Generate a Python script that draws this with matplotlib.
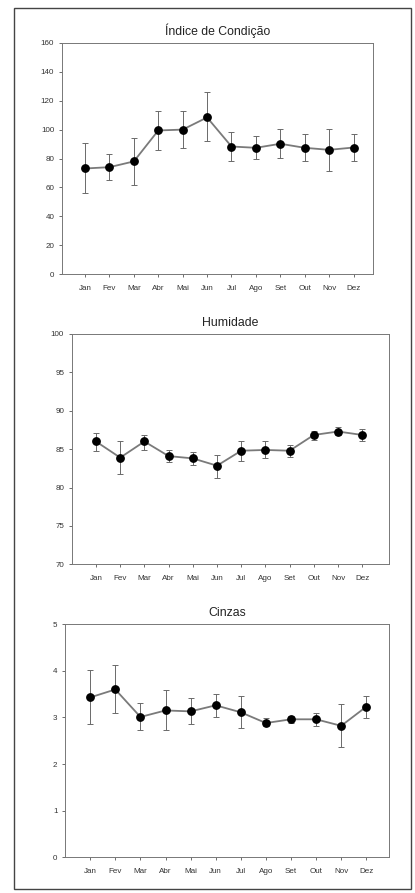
import numpy as np
import matplotlib
matplotlib.use("Agg")
import matplotlib.pyplot as plt
from matplotlib.patches import Rectangle

plt.rcParams['font.family'] = ['Liberation Sans', 'DejaVu Sans']

meses = ['Jan', 'Fev', 'Mar', 'Abr', 'Mai', 'Jun', 'Jul', 'Ago', 'Set', 'Out', 'Nov', 'Dez']

# Índice de Condição: média, limite superior e inferior da barra de erro
ic_media = [73.1, 74.0, 78.0, 99.4, 100.0, 108.4, 88.3, 87.4, 90.2, 87.4, 86.0, 87.6]
ic_sup = [90.4, 83.0, 94.0, 113.0, 112.6, 125.8, 98.3, 95.3, 100.6, 96.9, 100.6, 97.1]
ic_inf = [56.0, 65.0, 62.0, 86.0, 87.0, 91.8, 78.0, 79.5, 80.2, 78.4, 71.7, 78.4]

# Humidade
hum_media = [86.0, 83.9, 86.0, 84.1, 83.8, 82.85, 84.8, 84.9, 84.8, 86.85, 87.3, 86.85]
hum_sup = [87.15, 86.0, 86.9, 84.9, 84.6, 84.3, 86.0, 86.0, 85.6, 87.4, 87.85, 87.6]
hum_inf = [84.8, 81.8, 84.9, 83.3, 82.9, 81.3, 83.5, 83.8, 84.0, 86.2, 86.8, 86.0]

# Cinzas
cin_media = [3.43, 3.60, 3.01, 3.15, 3.13, 3.26, 3.11, 2.88, 2.96, 2.96, 2.82, 3.23]
cin_sup = [4.01, 4.12, 3.30, 3.59, 3.42, 3.51, 3.46, 2.98, 3.04, 3.09, 3.29, 3.47]
cin_inf = [2.85, 3.09, 2.73, 2.73, 2.85, 3.01, 2.77, 2.82, 2.88, 2.81, 2.37, 2.98]

fig = plt.figure(figsize=(4.15, 8.93), dpi=100)
fig.patch.set_facecolor('white')

# moldura da página digitalizada
fig.patches.append(Rectangle((14 / 415, 1 - 889 / 893), 397 / 415, 881 / 893,
                             transform=fig.transFigure, fill=False,
                             edgecolor='#444444', linewidth=1.0))

paineis = [
    ('Índice de Condição', ic_media, ic_sup, ic_inf, [0.149, 0.693, 0.750, 0.259],
     (0, 160), np.arange(0, 161, 20), (-0.95, 11.8)),
    ('Humidade', hum_media, hum_sup, hum_inf, [0.173, 0.368, 0.764, 0.258],
     (70, 100), np.arange(70, 101, 5), (-1.0, 12.1)),
    ('Cinzas', cin_media, cin_sup, cin_inf, [0.157, 0.040, 0.780, 0.261],
     (0, 5), np.arange(0, 6, 1), (-1.0, 11.9)),
]

x = np.arange(len(meses))
for titulo, media, sup, inf, pos, ylim, yticks, xlim in paineis:
    ax = fig.add_axes(pos)
    media = np.array(media)
    erro = [media - np.array(inf), np.array(sup) - media]
    ax.errorbar(x, media, yerr=erro, fmt='none', ecolor='#6a6a6a',
                elinewidth=0.7, capsize=2.5, capthick=0.7, zorder=2)
    ax.plot(x, media, color='#7a7a7a', linewidth=1.3, zorder=3)
    ax.plot(x, media, 'o', color='black', markersize=5.3, zorder=4)
    ax.set_xlim(*xlim)
    ax.set_ylim(*ylim)
    ax.set_yticks(yticks)
    ax.set_xticks(x)
    ax.set_xticklabels(meses)
    ax.tick_params(axis='both', direction='out', length=2.5, width=0.6,
                   colors='#555555', labelsize=5.8, labelcolor='#333333', pad=3)
    ax.tick_params(axis='x', pad=5)
    for s in ax.spines.values():
        s.set_color('#777777')
        s.set_linewidth(0.7)
    ax.set_title(titulo, fontsize=8.8, color='#222222', pad=6)

fig.savefig('out.png', dpi=100)
